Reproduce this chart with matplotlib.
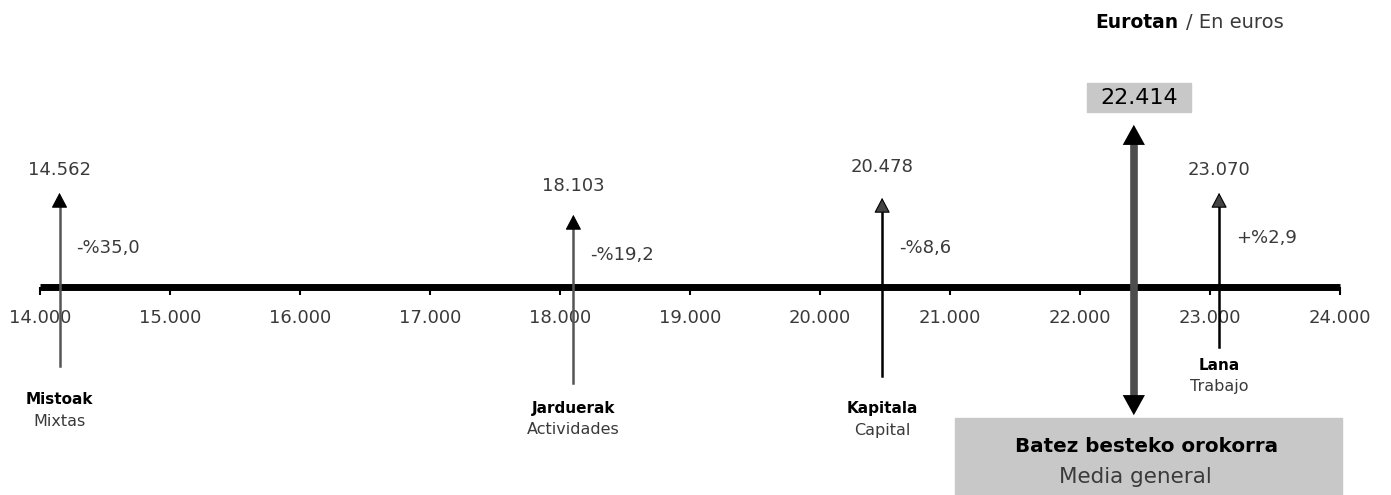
import matplotlib.pyplot as plt
from matplotlib.patches import FancyArrowPatch, Rectangle

# data
names_eu = ["Mistoak", "Jarduerak", "Kapitala", "Lana"]
names_es = ["Mixtas", "Actividades", "Capital", "Trabajo"]
values = [14562, 18103, 20478, 23070]
arrow_x = [14150, 18103, 20478, 23070]  # where the picture draws each arrow
pct = ["-%35,0", "-%19,2", "-%8,6", "+%2,9"]
mean_value = 22414
ticks = [14000, 15000, 16000, 17000, 18000, 19000, 20000, 21000, 22000, 23000, 24000]

plt.rcParams['font.family'] = ['DejaVu Sans']

fig = plt.figure(figsize=(13.91, 4.95), dpi=100)
ax = fig.add_axes([0, 0, 1, 1])
ax.set_xlim(14000 - 40 / 0.13, 14000 - 40 / 0.13 + 1391 / 0.13)
ax.set_ylim(495, 0)
ax.axis("off")

px = 1 / 0.13  # data units per pixel
grey_txt = "#3a3a3a"

axis_y = 287
ax.plot([ticks[0], ticks[-1]], [axis_y, axis_y], color="black", lw=5, solid_capstyle="butt", zorder=2)
ax.vlines(ticks, axis_y, axis_y + 8, color="black", lw=1.5, zorder=2)
for t in ticks:
    ax.text(t, 318, f"{t:,}".replace(",", "."), ha="center", va="center",
            fontsize=13, color=grey_txt)

# vertical extents per arrow (pixel rows)
tops = [190, 212, 195, 190]
bottoms = [366, 383, 376, 347]
label_y = [170, 186, 167, 170]
pct_y = [248, 255, 248, 238]
name_y = [400, 408, 408, 365]
line_cols = ["#555555", "#555555", "black", "black"]
head_cols = ["black", "black", "#444444", "#444444"]

for i in range(len(values)):
    x = arrow_x[i]
    ax.plot([x, x], [bottoms[i], tops[i] + 10], color=line_cols[i], lw=1.8, zorder=3)
    ar = FancyArrowPatch((x, tops[i] + 13), (x, tops[i]),
                         arrowstyle="-|>,head_length=0.95,head_width=0.5",
                         mutation_scale=10, color=head_cols[i], ec="black", lw=0.8, zorder=4)
    ax.add_patch(ar)
    ax.text(x, label_y[i], f"{values[i]:,}".replace(",", "."), ha="center", va="center",
            fontsize=13, color=grey_txt)
    ax.text(x + 130, pct_y[i], pct[i], ha="left", va="center", fontsize=13, color=grey_txt)
    ax.text(x, name_y[i], names_eu[i], ha="center", va="center", fontsize=11,
            fontweight="bold", color="black")
    ax.text(x, name_y[i] + 22, names_es[i], ha="center", va="center", fontsize=11.5,
            color=grey_txt)

# mean arrow
mean_top, mean_bot = 122, 418
ax.plot([mean_value, mean_value], [mean_top + 18, mean_bot - 18], color="#4d4d4d", lw=5.5,
        solid_capstyle="butt", zorder=5)
for y0, y1 in [(mean_top + 20, mean_top), (mean_bot - 20, mean_bot)]:
    ax.add_patch(FancyArrowPatch((mean_value, y0), (mean_value, y1),
                                 arrowstyle="-|>,head_length=1.45,head_width=0.8",
                                 mutation_scale=10, color="black", lw=0, zorder=6))

ax.add_patch(Rectangle((mean_value - 47 * px, 83), 104 * px, 29, color="#c8c8c8", zorder=1))
ax.text(mean_value + 5 * px, 98, f"{mean_value:,}".replace(",", "."), ha="center", va="center",
        fontsize=16, color="black", zorder=7)

box_left = 14000 + (955 - 40) * px
ax.add_patch(Rectangle((box_left, 418), 387 * px, 77, color="#c8c8c8", zorder=1))
ax.text(box_left + 192 * px, 447, "Batez besteko orokorra", ha="center", va="center",
        fontsize=14.3, fontweight="bold", color="black", zorder=7)
ax.text(box_left + 180 * px, 477, "Media general", ha="center", va="center",
        fontsize=15.5, color=grey_txt, zorder=7)

ax.text(14000 + (1178 - 40) * px, 23, "Eurotan", ha="right", va="center", fontsize=13.5,
        fontweight="bold", color="black")
ax.text(14000 + (1186 - 40) * px, 23, "/ En euros", ha="left", va="center", fontsize=14,
        color=grey_txt)

fig.savefig("out.png", dpi=100)
